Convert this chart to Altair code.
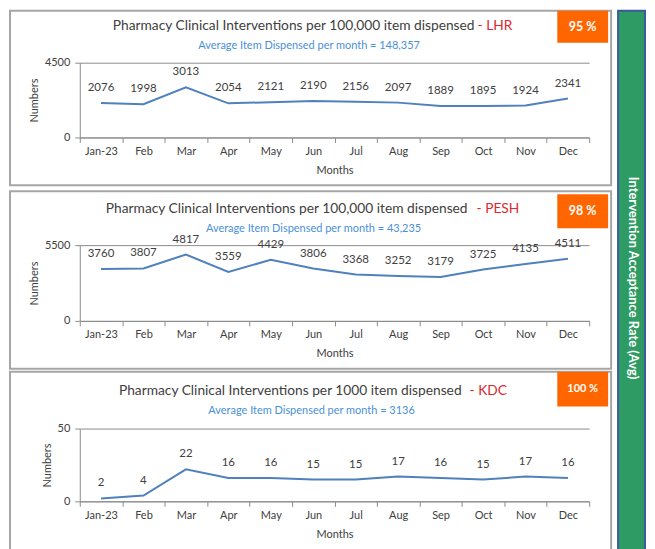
import altair as alt
import pandas as pd

months = ["Jan-23", "Feb", "Mar", "Apr", "May", "Jun", "Jul", "Aug", "Sep", "Oct", "Nov", "Dec"]
lhr_values = [2076, 1998, 3013, 2054, 2121, 2190, 2156, 2097, 1889, 1895, 1924, 2341]
pesh_values = [3760, 3807, 4817, 3559, 4429, 3806, 3368, 3252, 3179, 3725, 4135, 4511]
kdc_values = [2, 4, 22, 16, 16, 15, 15, 17, 16, 15, 17, 16]

site_names = ["LHR", "PESH", "KDC"]
per_items = ["100,000", "100,000", "1000"]
avg_dispensed = ["148,357", "43,235", "3136"]
acceptance = ["95 %", "98 %", "100 %"]
y_max = [4500, 5500, 50]
side_title = "Intervention Acceptance Rate (Avg)"

FONT = "Lato"
W = 511
GRAY = "#8c8c8c"
TXT = "#404040"

layouts = [
    dict(h=75, box=(-52, 123), ty=-37, mx=396, rx=399, sx=230, sy=-17, badge=(-52, -20), by=-36, bf=12.5),
    dict(h=76, box=(-54, 124), ty=-36, mx=389, rx=398, sx=234.5, sy=-16, badge=(-51, -17), by=-34, bf=12.5),
    dict(h=73, box=(-57, 124), ty=-38, mx=383, rx=391, sx=232.5, sy=-18, badge=(-57, -22), by=-39.5, bf=11),
]


def panel(values, ymax, site, per, avg, rate, L, extra=()):
    df = pd.DataFrame({"Month": months, "Value": values})
    one = pd.DataFrame({"k": [0]})
    xenc = alt.X(
        "Month:N", sort=months,
        scale=alt.Scale(type="band", paddingInner=0, paddingOuter=0),
        axis=alt.Axis(title="Months", labelAngle=0, tickBand="extent", domainColor=GRAY,
                      tickColor=GRAY, tickSize=5, labelFont=FONT, labelFontSize=11,
                      labelColor=TXT, labelPadding=3, titleFont=FONT, titleFontSize=11,
                      titleFontWeight="normal", titleColor=TXT, titlePadding=8),
    )
    yenc = alt.Y(
        "Value:Q", scale=alt.Scale(domain=[0, ymax], nice=False, zero=True),
        axis=alt.Axis(title="Numbers", values=[0, ymax], format="d", grid=True, gridColor=GRAY,
                      domainColor=GRAY, tickColor=GRAY, tickSize=5, labelPadding=5,
                      labelFont=FONT, labelFontSize=11, labelColor=TXT, titleFont=FONT,
                      titleFontSize=11, titleFontWeight="normal", titleColor=TXT, titlePadding=5),
    )
    box = alt.Chart(one).mark_rect(fill="white", fillOpacity=0, stroke="#a6a6a6", strokeWidth=2).encode(
        x=alt.value(-70), x2=alt.value(533), y=alt.value(L["box"][0]), y2=alt.value(L["box"][1]))
    base = alt.Chart(df)
    line = base.mark_line(color="#4F81BD", strokeWidth=2).encode(x=xenc, y=yenc)
    labels = base.mark_text(dy=-15, font=FONT, fontSize=11.5, color=TXT).encode(
        x=xenc, y=yenc, text=alt.Text("Value:Q", format="d"))
    t_main = alt.Chart(one).mark_text(align="right", baseline="middle", font=FONT, fontSize=13.8, color=TXT).encode(
        x=alt.value(L["mx"]), y=alt.value(L["ty"]),
        text=alt.value(f"Pharmacy Clinical Interventions per {per} item dispensed"))
    t_red = alt.Chart(one).mark_text(align="left", baseline="middle", font=FONT, fontSize=13.8, color="#D9292E").encode(
        x=alt.value(L["rx"]), y=alt.value(L["ty"]), text=alt.value(f"- {site}"))
    t_sub = alt.Chart(one).mark_text(align="center", baseline="middle", font=FONT, fontSize=11, color="#4A90D9").encode(
        x=alt.value(L["sx"]), y=alt.value(L["sy"]),
        text=alt.value(f"Average Item Dispensed per month = {avg}"))
    badge = alt.Chart(one).mark_rect(fill="#FF6600").encode(
        x=alt.value(479), x2=alt.value(530), y=alt.value(L["badge"][0]), y2=alt.value(L["badge"][1]))
    badge_t = alt.Chart(one).mark_text(align="center", baseline="middle", font=FONT, fontSize=L["bf"],
                                       fontWeight="bold", color="white").encode(
        x=alt.value(504.5), y=alt.value(L["by"]), text=alt.value(rate))
    layers = [box, line, labels, t_main, t_red, t_sub, badge, badge_t] + list(extra)
    return alt.layer(*layers).properties(width=W, height=L["h"])


one_g = pd.DataFrame({"k": [0]})
g_rect = alt.Chart(one_g).mark_rect(fill="#2E9B64", stroke="#3B5A9A", strokeWidth=2).encode(
    x=alt.value(540), x2=alt.value(567), y=alt.value(-52), y2=alt.value(500))
g_text = alt.Chart(one_g).mark_text(angle=90, align="center", baseline="middle", font=FONT,
                                    fontSize=13, fontWeight="bold", color="white").encode(
    x=alt.value(555), y=alt.value(216), text=alt.value(side_title))

p1 = panel(lhr_values, y_max[0], site_names[0], per_items[0], avg_dispensed[0], acceptance[0], layouts[0],
           extra=(g_rect, g_text))
p2 = panel(pesh_values, y_max[1], site_names[1], per_items[1], avg_dispensed[1], acceptance[1], layouts[1])
p3 = panel(kdc_values, y_max[2], site_names[2], per_items[2], avg_dispensed[2], acceptance[2], layouts[2])

chart = alt.vconcat(p1, p2, p3, spacing=108, bounds="flush").properties(padding=0).configure_view(
    stroke="transparent")

chart.save("out.html", embed_options={"renderer": "svg", "actions": False})
